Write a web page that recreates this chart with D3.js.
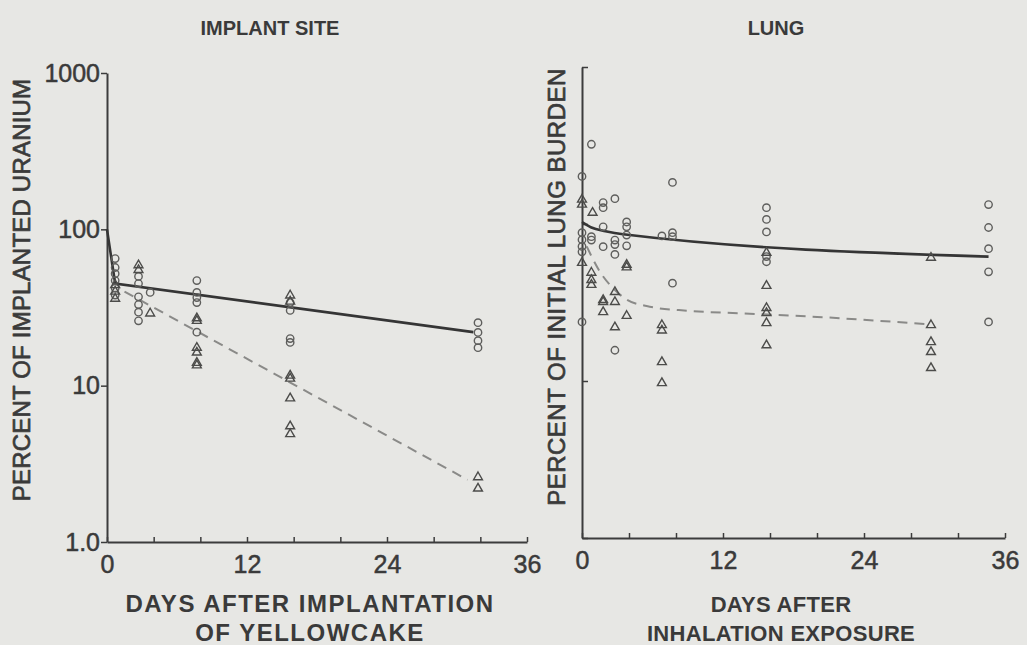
<!DOCTYPE html>
<html>
<head>
<meta charset="utf-8">
<script src="https://cdn.jsdelivr.net/npm/d3@7"></script>
<style>
  html, body { margin: 0; padding: 0; background: #e7e7e4; }
  svg { display: block; }
  text { font-family: "Liberation Sans", Arial, Helvetica, sans-serif; fill: #3a3a3a; }
</style>
</head>
<body>
<svg id="chart" width="1027" height="645"></svg>
<script>
// ---- Implant site: percent of implanted uranium remaining ----
const siteCircles = [
  [0.7, 65], [0.7, 57], [0.7, 52], [0.7, 47], [0.7, 42], [0.7, 38],
  [2.7, 50], [2.7, 45], [2.7, 37], [2.7, 33], [2.7, 29.5], [2.7, 26],
  [3.7, 39.5],
  [7.7, 47], [7.7, 39.5], [7.7, 36.6], [7.7, 34], [7.7, 22],
  [15.7, 34], [15.7, 30.3], [15.7, 20], [15.7, 18.9],
  [31.8, 25.3], [31.8, 21.9], [31.8, 19.4], [31.8, 17.5]
];
const siteTriangles = [
  [0.7, 44], [0.7, 40], [0.7, 36],
  [2.7, 59], [2.7, 55],
  [3.7, 29],
  [7.7, 27], [7.7, 26], [7.7, 17.5], [7.7, 16.3], [7.7, 14], [7.7, 13.5],
  [15.7, 37.8], [15.7, 34.5], [15.7, 11.6], [15.7, 11.1], [15.7, 8.3], [15.7, 5.5], [15.7, 4.9],
  [31.8, 2.6], [31.8, 2.2]
];
const siteSolidDays = [0, 0.7, 31.4];
const siteSolidVals = [100, 45, 22];
const siteDashedDays = [1.5, 30.9];
const siteDashedVals = [40, 2.5];

// ---- Lung: percent of initial lung burden ----
const lungCircles = [
  [0, 201], [0, 88], [0, 79.5], [0, 72], [0, 66.5], [0, 23.8],
  [0.8, 322], [0.8, 83], [0.8, 79],
  [1.8, 137], [1.8, 127], [1.8, 96], [1.8, 71.7],
  [2.8, 145], [2.8, 79], [2.8, 74], [2.8, 64], [2.8, 15.7],
  [3.8, 103], [3.8, 96], [3.8, 85], [3.8, 72.6],
  [6.8, 84],
  [7.7, 184], [7.7, 88], [7.7, 83], [7.7, 42],
  [15.7, 127], [15.7, 107], [15.7, 89], [15.7, 62], [15.7, 57.5],
  [34.6, 133], [34.6, 95], [34.6, 69.6], [34.6, 49.6], [34.6, 23.8]
];
const lungTriangles = [
  [0, 143], [0, 133], [0, 56.6],
  [0.9, 118], [0.8, 49], [0.8, 44], [0.8, 41],
  [1.8, 32.8], [1.8, 31.9], [1.8, 27.5],
  [2.8, 36.9], [2.8, 31.9], [2.8, 22],
  [3.8, 55], [3.8, 53], [3.8, 26],
  [6.8, 22.7], [6.8, 21], [6.8, 13.2], [6.8, 9.7],
  [15.7, 65.6], [15.7, 40.4], [15.7, 29.2], [15.7, 27.1], [15.7, 23.4], [15.7, 16.9],
  [29.7, 61], [29.7, 22.7], [29.7, 17.7], [29.7, 15.3], [29.7, 12.1]
];
const lungSolidDays = [0, 0.8, 2, 3.5, 34.6];
const lungSolidVals = [103, 95, 90, 86, 62];
const lungDashedDays = [0.4, 1.5, 2.8, 3.8, 5.5, 9, 13.4, 20, 29.4];
const lungDashedVals = [72, 50, 38, 33, 30, 28, 27, 25.6, 23];

// ---- Axis definitions ----
const dayTicks = [0, 4, 8, 12, 16, 20, 24, 28, 32, 36];
const dayLabels = [0, 12, 24, 36];
const pctTicks = [1, 10, 100, 1000];
const pctLabels = ["1.0", "10", "100", "1000"];

const svg = d3.select("#chart");
const ink = "#3c3c3c";

function zip(days, vals) { return days.map((d, i) => [d, vals[i]]); }

// slightly heavier than regular weight
function medium(sel, w) {
  return sel.attr("stroke", ink).attr("stroke-width", w).attr("stroke-linejoin", "round");
}

function panel(opts) {
  const x = d3.scaleLinear().domain([0, 36]).range(opts.xRange);
  const y = d3.scaleLog().domain([1, 1000]).range(opts.yRange);
  const g = svg.append("g");

  // x axis
  const xAxis = d3.axisBottom(x).tickValues(dayTicks).tickSizeInner(-5).tickSizeOuter(0)
    .tickFormat(d => dayLabels.includes(d) ? d : "");
  const gx = g.append("g").attr("transform", `translate(0,${opts.yRange[0]})`).call(xAxis);
  gx.select(".domain").attr("stroke", ink).attr("stroke-width", 2);
  gx.selectAll(".tick line").attr("stroke", ink).attr("stroke-width", 1.5);
  medium(gx.selectAll(".tick text").attr("font-size", 25).attr("dy", "1.1em").attr("fill", ink), 0.5);

  // y axis
  const yAxis = d3.axisLeft(y).tickValues(pctTicks).tickSizeOuter(0)
    .tickSizeInner(opts.yInner ? -6 : 6)
    .tickFormat((d, i) => opts.yLabels ? pctLabels[i] : "");
  const gy = g.append("g").attr("transform", `translate(${opts.xRange[0]},0)`).call(yAxis);
  gy.select(".domain").attr("stroke", ink).attr("stroke-width", 2);
  gy.selectAll(".tick line").attr("stroke", ink).attr("stroke-width", 1.5);
  medium(gy.selectAll(".tick text").attr("font-size", 25).attr("fill", ink).attr("x", -7), 0.5);

  const line = d3.line().x(d => x(d[0])).y(d => y(d[1])).curve(opts.curve);

  g.append("path").datum(opts.dashed).attr("d", line)
    .attr("fill", "none").attr("stroke", "#8a8a88").attr("stroke-width", 2)
    .attr("stroke-dasharray", "10,7");
  g.append("path").datum(opts.solid).attr("d", line)
    .attr("fill", "none").attr("stroke", "#353535").attr("stroke-width", 2.6);

  g.append("g").selectAll("circle").data(opts.circles).join("circle")
    .attr("cx", d => x(d[0])).attr("cy", d => y(d[1])).attr("r", 3.7)
    .attr("fill", "none").attr("stroke", "#5e5e5c").attr("stroke-width", 1.4);

  const tri = d3.symbol().type(d3.symbolTriangle).size(34);
  g.append("g").selectAll("path").data(opts.triangles).join("path")
    .attr("d", tri)
    .attr("transform", d => `translate(${x(d[0])},${y(d[1])})`)
    .attr("fill", "none").attr("stroke", "#4c4c4a").attr("stroke-width", 1.4);

  // titles
  svg.append("text").attr("x", opts.titleX).attr("y", 35).attr("text-anchor", "middle")
    .attr("font-size", 20).attr("font-weight", "bold").attr("fill", ink)
    .text(opts.title);
  medium(svg.append("text")
    .attr("transform", `translate(${opts.yTitleX},${opts.yTitleY}) rotate(-90)`)
    .attr("text-anchor", "middle").attr("font-size", 24)
    .attr("letter-spacing", opts.yTitleSpacing)
    .attr("fill", ink).attr("dy", "0.35em").text(opts.yTitle), 0.7);
  opts.xTitle.forEach((t, i) => {
    svg.append("text").attr("x", opts.xTitleX).attr("y", 612 + i * 29)
      .attr("text-anchor", "middle").attr("font-size", opts.xTitleSize).attr("font-weight", "bold")
      .attr("letter-spacing", opts.xTitleSpacing)
      .attr("fill", ink).text(t);
  });
}

panel({
  xRange: [107, 527], yRange: [542, 73], yLabels: true, yInner: false,
  curve: d3.curveLinear,
  circles: siteCircles, triangles: siteTriangles,
  solid: zip(siteSolidDays, siteSolidVals), dashed: zip(siteDashedDays, siteDashedVals),
  title: "IMPLANT SITE", titleX: 270,
  yTitle: "PERCENT OF IMPLANTED URANIUM", yTitleX: 22, yTitleY: 290, yTitleSpacing: 0.2,
  xTitle: ["DAYS AFTER IMPLANTATION", "OF YELLOWCAKE"], xTitleX: 310,
  xTitleSize: 24, xTitleSpacing: 1.5
});

panel({
  xRange: [582, 1005], yRange: [538, 67], yLabels: false, yInner: true,
  curve: d3.curveMonotoneX,
  circles: lungCircles, triangles: lungTriangles,
  solid: zip(lungSolidDays, lungSolidVals), dashed: zip(lungDashedDays, lungDashedVals),
  title: "LUNG", titleX: 776,
  yTitle: "PERCENT OF INITIAL LUNG BURDEN", yTitleX: 557, yTitleY: 287, yTitleSpacing: 0.5,
  xTitle: ["DAYS AFTER", "INHALATION EXPOSURE"], xTitleX: 781,
  xTitleSize: 22, xTitleSpacing: 0.3
});
</script>
</body>
</html>
